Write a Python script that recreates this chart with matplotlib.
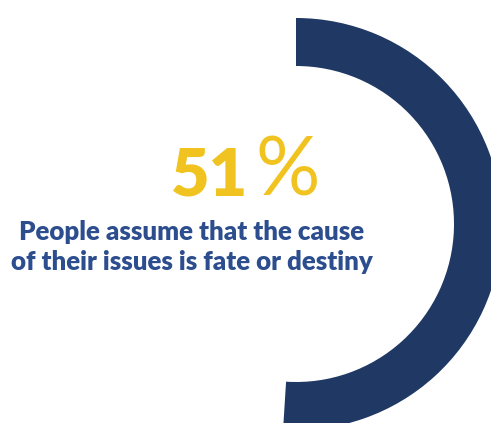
import matplotlib
matplotlib.use("Agg")
import matplotlib.pyplot as plt

# Share of people who attribute their issues to fate or destiny
share_values = [51, 49]
headline = "51"
headline_unit = "%"
caption_lines = ["People assume that the cause", "of their issues is fate or destiny"]

W, H = 491, 423
fig = plt.figure(figsize=(W / 100, H / 100), dpi=100)
ax = fig.add_axes([0, 0, 1, 1])

navy = "#1F3864"
gold = "#F1C320"
text_blue = "#2C4D8E"

outer_r = 206
ring_w = 48
center = (296, H - 224)

ax.pie(share_values, colors=[navy, "none"], startangle=90, counterclock=False,
       radius=outer_r, center=center,
       wedgeprops=dict(width=ring_w, linewidth=0))

ax.set_xlim(0, W)
ax.set_ylim(0, H)
ax.set_aspect("equal")
ax.axis("off")

font = "Lato"
ax.text(210, H - 195, headline, ha="center", va="baseline", color=gold,
        fontsize=48, fontweight="heavy", family=font)
ax.text(288, H - 195, headline_unit, ha="center", va="baseline", color=gold,
        fontsize=58, fontweight="normal", family=font)

baselines = [240, 270]
for line, yb in zip(caption_lines, baselines):
    ax.text(192, H - yb, line, ha="center", va="baseline", color=text_blue,
            fontsize=18.6, fontweight="heavy", family=font)

fig.savefig("out.png", dpi=100)
